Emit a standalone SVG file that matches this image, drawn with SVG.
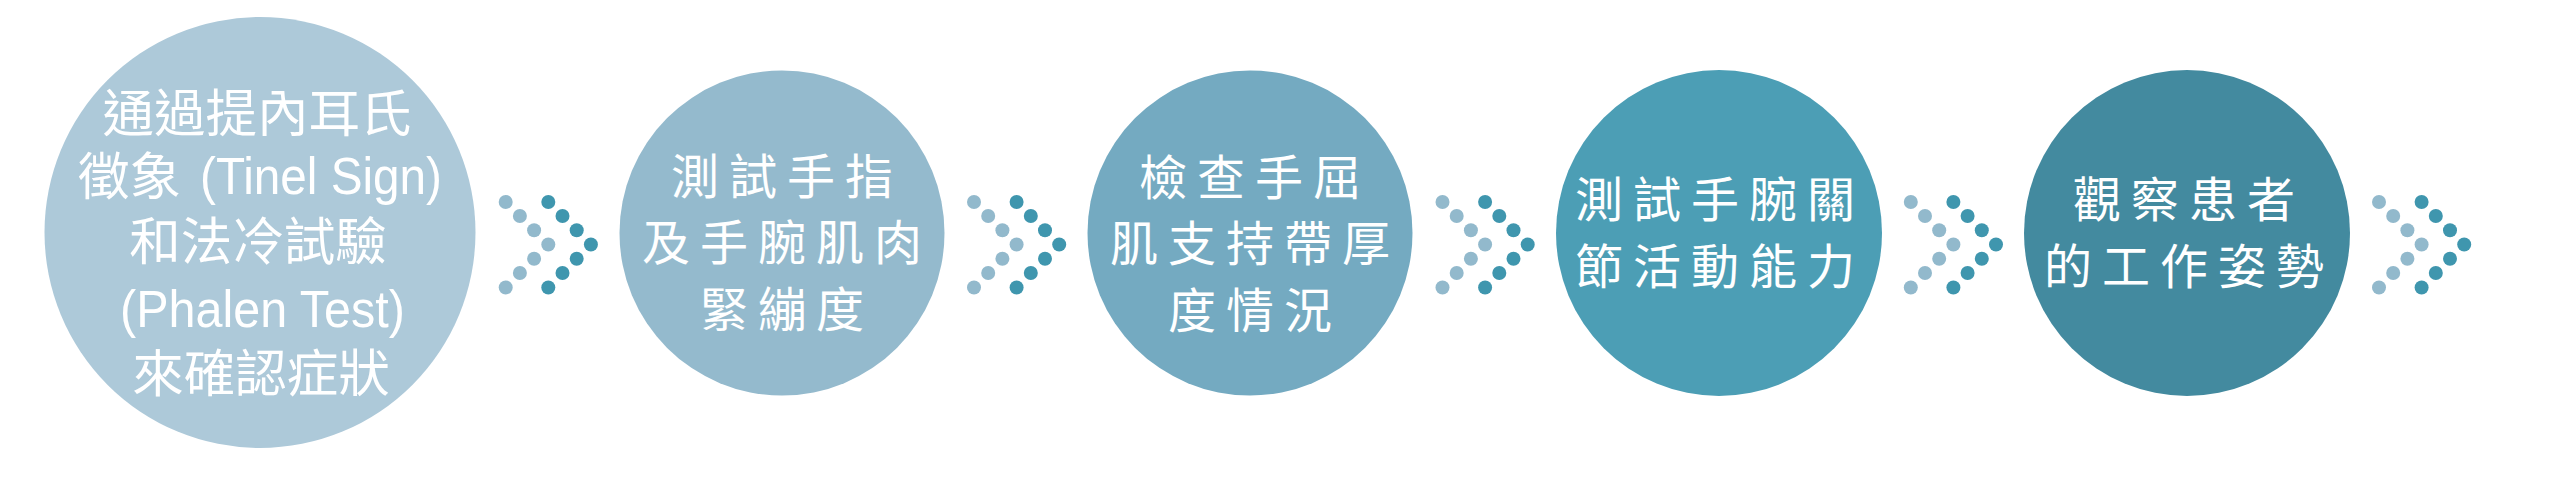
<svg xmlns="http://www.w3.org/2000/svg" xmlns:xlink="http://www.w3.org/1999/xlink" width="2549" height="483" viewBox="0 0 2549 483">
  <style>
    .lbl { fill: #ffffff; font-family: "Noto Sans CJK TC", "Noto Sans CJK SC", sans-serif; font-size: 48px; letter-spacing: 10px; text-anchor: middle; }
    .lbl1 { fill: #ffffff; font-family: "Noto Sans CJK TC", "Noto Sans CJK SC", sans-serif; font-size: 51.5px; }
    .mid { text-anchor: middle; }
    .lat { fill: #ffffff; font-family: "Liberation Sans", Arial, sans-serif; font-size: 52px; }
    .dl { fill: #92b9cc; }
    .dd { fill: #3f96ae; }
  </style>
  <defs>
    <g id="chev">
      <circle class="dl" cx="0" cy="202" r="7"/>
      <circle class="dl" cx="14.2" cy="216" r="7"/>
      <circle class="dl" cx="28.4" cy="230.3" r="7"/>
      <circle class="dl" cx="42.6" cy="244.5" r="7"/>
      <circle class="dl" cx="28.4" cy="258.8" r="7"/>
      <circle class="dl" cx="14.2" cy="273" r="7"/>
      <circle class="dl" cx="0" cy="287.5" r="7"/>
      <circle class="dd" cx="42.6" cy="202" r="7"/>
      <circle class="dd" cx="56.8" cy="216" r="7"/>
      <circle class="dd" cx="71" cy="230.3" r="7"/>
      <circle class="dd" cx="85.2" cy="244.5" r="7"/>
      <circle class="dd" cx="71" cy="258.8" r="7"/>
      <circle class="dd" cx="56.8" cy="273" r="7"/>
      <circle class="dd" cx="42.6" cy="287.5" r="7"/>
    </g>
  </defs>
  <rect x="0" y="0" width="2549" height="483" fill="#ffffff"/>

  <g id="node1">
    <circle cx="260" cy="232.5" r="215.5" fill="#adc9d9"/>
    <text class="lbl1 mid" x="257" y="132">通過提內耳氏</text>
    <text class="lbl1" x="78" y="195">徵象</text>
    <text class="lat" x="200" y="194" textLength="242" lengthAdjust="spacingAndGlyphs">(Tinel Sign)</text>
    <text class="lbl1 mid" x="258" y="260">和法冷試驗</text>
    <text class="lat" x="120" y="327" textLength="285" lengthAdjust="spacingAndGlyphs">(Phalen Test)</text>
    <text class="lbl1 mid" x="261" y="392">來確認症狀</text>
  </g>

  <g id="node2">
    <circle cx="782" cy="233" r="162.5" fill="#94bacd"/>
    <text class="lbl" x="787" y="194">測試手指</text>
    <text class="lbl" x="787" y="260">及手腕肌肉</text>
    <text class="lbl" x="787" y="327">緊繃度</text>
  </g>

  <g id="node3">
    <circle cx="1250" cy="233" r="162.5" fill="#74aac1"/>
    <text class="lbl" x="1255" y="195">檢查手屈</text>
    <text class="lbl" x="1255" y="261">肌支持帶厚</text>
    <text class="lbl" x="1255" y="328">度情況</text>
  </g>

  <g id="node4">
    <circle cx="1719" cy="233" r="163" fill="#4c9eb5"/>
    <text class="lbl" x="1720" y="217">測試手腕關</text>
    <text class="lbl" x="1720" y="284">節活動能力</text>
  </g>

  <g id="node5">
    <circle cx="2187" cy="233" r="163" fill="#438a9f"/>
    <text class="lbl" x="2189" y="217">觀察患者</text>
    <text class="lbl" x="2189" y="284">的工作姿勢</text>
  </g>

  <g id="connectors">
    <use xlink:href="#chev" href="#chev" x="505.7" y="0"/>
    <use xlink:href="#chev" href="#chev" x="974" y="0"/>
    <use xlink:href="#chev" href="#chev" x="1442.5" y="0"/>
    <use xlink:href="#chev" href="#chev" x="1910.8" y="0"/>
    <use xlink:href="#chev" href="#chev" x="2379" y="0"/>
  </g>
</svg>
